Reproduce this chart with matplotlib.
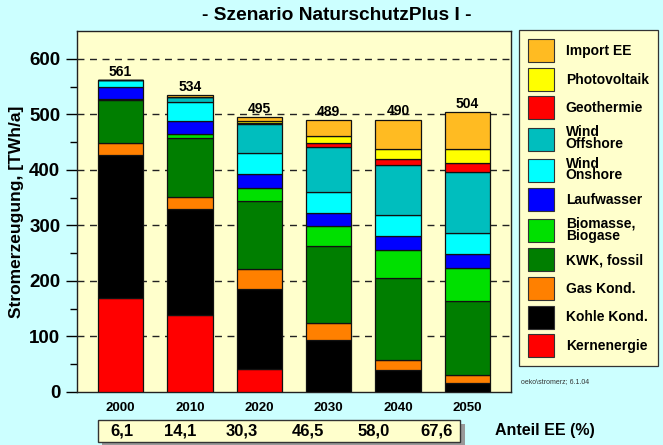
import matplotlib.pyplot as plt
from matplotlib.patches import Rectangle, Patch

#==================================================================================
#     Stromerzeugung nach Energietraeger - Szenario NaturschutzPlus I
#==================================================================================

years = ['2000', '2010', '2020', '2030', '2040', '2050']

kernenergie = [169, 139, 41, 0, 0, 0]
kohle_kond  = [257, 190, 144, 94, 40, 17]
gas_kond    = [23, 23, 36, 30, 18, 13]
kwk_fossil  = [77, 106, 123, 138, 147, 133]
biomasse    = [2, 7, 23, 37, 50, 60]
laufwasser  = [22, 23, 25, 24, 25, 25]
wind_on     = [11, 35, 38, 38, 38, 39]
wind_off    = [0, 8, 52, 81, 91, 109]
geothermie  = [0, 0, 2, 7, 11, 16]
photovolt   = [0, 1, 4, 12, 18, 26]
import_ee   = [0, 2, 7, 28, 52, 66]

totals = [561, 534, 495, 489, 490, 504]
anteil_ee = ['6,1', '14,1', '30,3', '46,5', '58,0', '67,6']

series = [
    ('Kernenergie', kernenergie, '#FF0000'),
    ('Kohle Kond.', kohle_kond, '#000000'),
    ('Gas Kond.', gas_kond, '#FF8000'),
    ('KWK, fossil', kwk_fossil, '#007E00'),
    ('Biomasse,\nBiogase', biomasse, '#00E000'),
    ('Laufwasser', laufwasser, '#0000FF'),
    ('Wind\nOnshore', wind_on, '#00FFFF'),
    ('Wind\nOffshore', wind_off, '#00BEBE'),
    ('Geothermie', geothermie, '#FF0000'),
    ('Photovoltaik', photovolt, '#FFFF00'),
    ('Import EE', import_ee, '#FFBB22'),
]

plt.rcParams['font.family'] = ['Liberation Sans', 'DejaVu Sans']
plt.rcParams['font.weight'] = 'bold'

fig = plt.figure(figsize=(6.63, 4.45), dpi=100)
fig.patch.set_facecolor('#CCFFFF')
ax = fig.add_axes([77 / 663, 53 / 445, 434 / 663, 361 / 445])
ax.set_facecolor('#FFFFCC')

x = list(range(len(years)))
bottom = [0] * len(years)
handles = []
for name, vals, col in series:
    ax.bar(x, vals, width=0.65, bottom=bottom, color=col, edgecolor='#111111',
           linewidth=0.9, zorder=3)
    bottom = [b + v for b, v in zip(bottom, vals)]
    handles.append(Patch(facecolor=col, edgecolor='#333333', linewidth=0.8, label=name))

for i, t in enumerate(totals):
    ax.annotate(str(t), (x[i], bottom[i]), xytext=(0, 1), textcoords='offset points',
                ha='center', va='bottom', fontsize=10, fontweight='bold', zorder=4)

ax.set_xlim(-0.63, 5.63)
ax.set_ylim(0, 650)
ax.set_yticks(range(0, 700, 100))
ax.set_yticks(range(50, 650, 100), minor=True)
ax.set_xticks(x)
ax.set_xticklabels(years)
ax.tick_params(axis='y', direction='out', length=8, width=1, labelsize=13.5, pad=4)
ax.tick_params(axis='y', which='minor', direction='out', length=5, width=1)
ax.tick_params(axis='x', direction='in', length=6, width=1, labelsize=9.5, pad=7)
for lbl in ax.get_yticklabels() + ax.get_xticklabels():
    lbl.set_fontweight('bold')

for v in range(100, 700, 100):
    ax.axhline(v, color='#222222', linewidth=1, dashes=(5, 4), zorder=1)

for s in ax.spines.values():
    s.set_color('#222222')
    s.set_linewidth(1)

ax.set_ylabel('Stromerzeugung, [TWh/a]', fontsize=12.5, fontweight='bold', labelpad=4)

fig.text(0.5075, 0.966, '- Szenario NaturschutzPlus I -', ha='center', va='center',
         fontsize=13.8, fontweight='bold')

# legend box on the right
leg = fig.legend(handles=handles[::-1], loc='upper left',
                 bbox_to_anchor=(519 / 663, 1 - 30 / 445), fontsize=10,
                 handlelength=1.87, handleheight=2.17, labelspacing=0.41,
                 handletextpad=0.85, borderpad=0.65, borderaxespad=0,
                 frameon=True, fancybox=False, facecolor='#FFFFCC',
                 edgecolor='#333333', framealpha=1)
leg.get_frame().set_linewidth(0.9)
for t in leg.get_texts():
    t.set_fontweight('bold')
    t.set_linespacing(0.8)

fig.text(555 / 663, 1 - 382 / 445, 'oeko\\stromerz; 6.1.04', ha='center', va='center',
         fontsize=5, fontweight='normal', color='#333333')

# Anteil EE row under the chart (own table, not aligned with the bars)
cell_x = [121.7, 180, 241.7, 307.5, 374, 436.7]
fig.patches.append(Rectangle((102 / 663, 0.0), 363 / 663, 21 / 445, transform=fig.transFigure,
                             facecolor='#999999', edgecolor='none', zorder=0))
fig.patches.append(Rectangle((98 / 663, 3 / 445), 362 / 663, 22 / 445, transform=fig.transFigure,
                             facecolor='#FFFFCC', edgecolor='#333333', linewidth=1, zorder=1))
for cx, a in zip(cell_x, anteil_ee):
    fig.text(cx / 663, 1 - 431 / 445, a, ha='center', va='center',
             fontsize=12, fontweight='bold', zorder=3)
fig.text(495 / 663, 1 - 431 / 445, 'Anteil EE (%)', ha='left', va='center',
         fontsize=11.5, fontweight='bold')

plt.savefig('out.png', dpi=100, facecolor=fig.get_facecolor())
